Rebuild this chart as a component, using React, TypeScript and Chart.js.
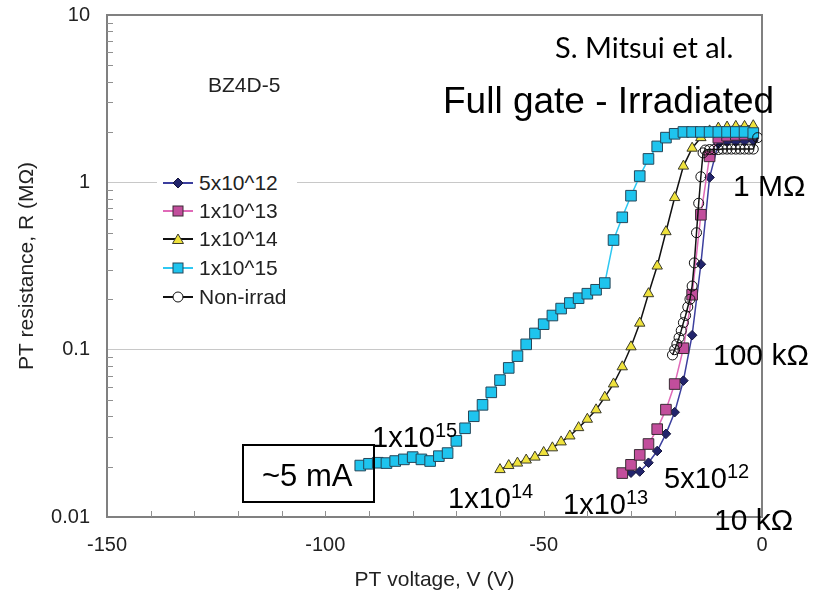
import React, { useEffect, useRef } from 'react';
import { Chart, registerables } from 'chart.js';

Chart.register(...registerables);

// ---------- data ----------
const V_5E12 = [-30, -28, -26, -24, -22, -20, -18, -16, -14, -12, -10, -8, -6, -4, -2];
const R_5E12 = [0.0184, 0.0187, 0.0211, 0.0248, 0.0314, 0.0423, 0.0653, 0.122, 0.324, 1.07, 1.7, 1.75, 1.75, 1.76, 1.77];

const V_1E13 = [-32, -30, -28, -26, -24, -22, -20, -18, -16, -14, -12, -10, -8, -6, -4, -2];
const R_1E13 = [0.0183, 0.0205, 0.0235, 0.0273, 0.0335, 0.0438, 0.0623, 0.102, 0.213, 0.64, 1.43, 1.85, 1.9, 1.92, 1.93, 1.95];

const V_1E14 = [-60, -58, -56, -54, -52, -50, -48, -46, -44, -42, -40, -38, -36, -34, -32, -30, -28, -26, -24, -22, -20, -18, -16, -14, -12, -10, -8, -6, -4, -2];
const R_1E14 = [0.0192, 0.0203, 0.021, 0.0219, 0.0228, 0.0243, 0.0259, 0.0281, 0.0305, 0.0342, 0.0384, 0.0437, 0.052, 0.0624, 0.079, 0.104, 0.144, 0.216, 0.316, 0.507, 0.811, 1.25, 1.6, 1.85, 2.03, 2.11, 2.14, 2.16, 2.16, 2.18];

const V_1E15 = [-92, -90, -88, -86, -84, -82, -80, -78, -76, -74, -72, -70, -68, -66, -64, -62, -60, -58, -56, -54, -52, -50, -48, -46, -44, -42, -40, -38, -36, -34, -32, -30, -28, -26, -24, -22, -20, -18, -16, -14, -12, -10, -8, -6, -4, -2];
const R_1E15 = [0.0203, 0.0208, 0.0211, 0.021, 0.0216, 0.0221, 0.0228, 0.0221, 0.0216, 0.0231, 0.0241, 0.0285, 0.0339, 0.04, 0.0468, 0.0556, 0.0658, 0.0778, 0.0915, 0.1076, 0.125, 0.142, 0.16, 0.176, 0.19, 0.203, 0.216, 0.228, 0.25, 0.452, 0.618, 0.832, 1.09, 1.38, 1.64, 1.85, 1.95, 2.0, 2.0, 2.0, 2.0, 2.0, 2.0, 2.0, 2.0, 1.97];

const V_NON = [-20.5, -20, -19.5, -19, -18.5, -18, -17.5, -17, -16.5, -16, -15.5, -15, -14.5, -14, -13.5, -13, -12, -11, -10, -9, -8, -7, -6, -5, -4, -3, -2, -1];
const R_NON = [0.093, 0.1, 0.108, 0.118, 0.13, 0.145, 0.16, 0.18, 0.2, 0.24, 0.33, 0.5, 0.75, 1.08, 1.5, 1.56, 1.57, 1.57, 1.57, 1.58, 1.58, 1.58, 1.58, 1.58, 1.58, 1.58, 1.58, 1.85];

const SERIES_LABELS = ['5x10^12', '1x10^13', '1x10^14', '1x10^15', 'Non-irrad'];
const X_MIN = -150;
const X_MAX = 0;
const Y_MIN = 0.01;
const Y_MAX = 10;
const Y_LABELED = [10, 1, 0.1, 0.01];
const X_LABELED = [-150, -100, -50, 0];

// ---------- styles ----------
const FONT = '"Liberation Sans", Arial, sans-serif';
const STYLE = [
  { line: '#3c3f9e', fill: '#22246c', border: '#14143c', shape: 'diamond' },
  { line: '#e06ab8', fill: '#c24e9c', border: '#3a2a34', shape: 'square' },
  { line: '#111111', fill: '#efe23c', border: '#3a3a2a', shape: 'triangle' },
  { line: '#2ec8f2', fill: '#1ec4ee', border: '#25475a', shape: 'square' },
  { line: '#111111', fill: 'rgba(255,255,255,0)', border: '#111111', shape: 'circle' },
];

const pts = (xs: number[], ys: number[]) => xs.map((x, i) => ({ x, y: ys[i] }));

const isPow10 = (v: number) => {
  const l = Math.log10(v);
  return Math.abs(l - Math.round(l)) < 1e-6;
};

const framePlugin = {
  id: 'frame',
  beforeDatasetsDraw(chart: any) {
    const { ctx, chartArea, scales } = chart;
    const { left, right, top, bottom } = chartArea;
    const x = scales.x;
    const y = scales.y;
    ctx.save();
    ctx.strokeStyle = '#808080';
    ctx.lineWidth = 2;
    ctx.beginPath();
    ctx.moveTo(left - 1, top);
    ctx.lineTo(right, top);
    ctx.lineTo(right, bottom + 1);
    ctx.stroke();
    ctx.lineWidth = 1;
    ctx.strokeStyle = '#909090';
    ctx.beginPath();
    for (let v = X_MIN + 10; v < X_MAX; v += 10) {
      const px = Math.round(x.getPixelForValue(v)) + 0.5;
      ctx.moveTo(px, bottom);
      ctx.lineTo(px, bottom - 6);
    }
    for (let d = Y_MIN; d < Y_MAX * 0.999; d *= 10) {
      for (let k = 2; k <= 9; k++) {
        const py = Math.round(y.getPixelForValue(k * d)) + 0.5;
        ctx.moveTo(left, py);
        ctx.lineTo(left + 6, py);
      }
    }
    ctx.stroke();
    ctx.restore();
  },
};

function Marker({ idx }: { idx: number }) {
  const s = STYLE[idx];
  let shape: React.ReactNode = null;
  if (s.shape === 'diamond') shape = <polygon points="15,3 20,8 15,13 10,8" fill={s.fill} stroke={s.border} strokeWidth={1} />;
  if (s.shape === 'square') shape = <rect x={10} y={3} width={10} height={10} fill={s.fill} stroke={s.border} strokeWidth={1} />;
  if (s.shape === 'triangle') shape = <polygon points="15,3 20.5,12.5 9.5,12.5" fill={s.fill} stroke={s.border} strokeWidth={1} />;
  if (s.shape === 'circle') shape = <circle cx={15} cy={8} r={5} fill="#fff" stroke={s.border} strokeWidth={1} />;
  return (
    <svg width={30} height={16} style={{ display: 'block' }}>
      <line x1={0} y1={8} x2={30} y2={8} stroke={s.line} strokeWidth={2} />
      {shape}
    </svg>
  );
}

const abs = (left: number, top: number, size: number, extra: React.CSSProperties = {}): React.CSSProperties => ({
  position: 'absolute',
  left,
  top,
  fontFamily: FONT,
  fontSize: size,
  lineHeight: `${size}px`,
  whiteSpace: 'nowrap',
  color: '#000',
  ...extra,
});

function Pow({ left, top, base, exp }: { left: number; top: number; base: string; exp: string }) {
  return (
    <div style={abs(left, top, 29)}>
      {base}
      <span style={{ fontSize: 20, position: 'relative', top: -10 }}>{exp}</span>
    </div>
  );
}

export default function App() {
  const ref = useRef<HTMLCanvasElement>(null);

  useEffect(() => {
    if (!ref.current) return;
    const series = [
      pts(V_5E12, R_5E12),
      pts(V_1E13, R_1E13),
      pts(V_1E14, R_1E14),
      pts(V_1E15, R_1E15),
      pts(V_NON, R_NON),
    ];
    const shapeMap: Record<string, any> = { diamond: 'rectRot', square: 'rect', triangle: 'triangle', circle: 'circle' };
    const radiusMap: Record<string, number> = { diamond: 4.8, square: 7.5, triangle: 6, circle: 5 };
    // later series drawn on top: dataset index 0 is drawn last in Chart.js
    const order = [4, 3, 2, 1, 0];
    const datasets = order.map((i) => ({
      label: SERIES_LABELS[i],
      data: series[i],
      borderColor: STYLE[i].line,
      borderWidth: 1.5,
      backgroundColor: STYLE[i].fill,
      pointBackgroundColor: STYLE[i].fill,
      pointBorderColor: STYLE[i].border,
      pointBorderWidth: 1,
      pointStyle: shapeMap[STYLE[i].shape],
      pointRadius: radiusMap[STYLE[i].shape],
      showLine: true,
      fill: false,
      tension: 0,
    }));

    const chart = new Chart(ref.current, {
      type: 'line',
      data: { datasets },
      plugins: [framePlugin],
      options: {
        animation: false,
        responsive: false,
        events: [],
        layout: { padding: { left: 0, right: 54, top: 15, bottom: 0 } },
        plugins: { legend: { display: false }, tooltip: { enabled: false } },
        scales: {
          x: {
            type: 'linear',
            min: X_MIN,
            max: X_MAX,
            afterFit: (s: any) => {
              s.height = 80;
              s.paddingLeft = 0;
              s.paddingRight = 0;
            },
            border: { display: true, color: '#808080', width: 2 },
            grid: { display: true, drawOnChartArea: false, drawTicks: false },
            ticks: {
              stepSize: 10,
              autoSkip: false,
              maxRotation: 0,
              padding: 16,
              color: '#222',
              font: { family: FONT, size: 20 },
              callback: (v: any) => (X_LABELED.includes(Number(v)) ? String(v) : ''),
            },
            title: {
              display: true,
              text: 'PT voltage, V (V)',
              color: '#222',
              font: { family: FONT, size: 21 },
              padding: { top: 4, bottom: 4 },
            },
          },
          y: {
            type: 'logarithmic',
            min: Y_MIN,
            max: Y_MAX,
            afterFit: (s: any) => {
              s.width = 107;
              s.paddingTop = 0;
              s.paddingBottom = 0;
            },
            border: { display: true, color: '#808080', width: 2 },
            grid: {
              drawTicks: false,
              color: (c: any) => {
                const v = c.tick ? c.tick.value : NaN;
                return isPow10(v) && v > Y_MIN * 1.01 && v < Y_MAX * 0.99 ? '#c8c8c8' : 'rgba(0,0,0,0)';
              },
              lineWidth: 1,
            },
            ticks: {
              autoSkip: false,
              padding: 17,
              color: '#222',
              font: { family: FONT, size: 20 },
              callback: (v: any) => {
                const n = Number(v);
                const hit = Y_LABELED.find((t) => Math.abs(Math.log10(t) - Math.log10(n)) < 1e-6);
                return hit !== undefined ? String(hit) : '';
              },
            },
            title: {
              display: true,
              text: 'PT resistance, R (MΩ)',
              color: '#222',
              font: { family: FONT, size: 21 },
              padding: { top: 15, bottom: 4 },
            },
          },
        },
      },
    } as any);
    return () => chart.destroy();
  }, []);

  const legendTop = [183, 211, 239, 268, 297];

  return (
    <div style={{ position: 'fixed', left: 0, top: 0, width: 816, height: 597, background: '#fff', overflow: 'hidden' }}>
      <canvas ref={ref} width={816} height={597} style={{ position: 'absolute', left: 0, top: 0, width: 816, height: 597 }} />

      {/* legend */}
      <div style={{ position: 'absolute', left: 157, top: 168, width: 140, height: 144, background: '#fff' }} />
      {SERIES_LABELS.map((lab, i) => (
        <div key={lab} style={{ position: 'absolute', left: 163, top: legendTop[i] - 8 }}>
          <Marker idx={i} />
        </div>
      ))}
      {SERIES_LABELS.map((lab, i) => (
        <div key={lab + 't'} style={abs(199, legendTop[i] - 12, 21, { lineHeight: '24px', color: '#222' })}>
          {lab}
        </div>
      ))}

      {/* annotations */}
      <div style={abs(208, 74, 21, { color: '#222' })}>BZ4D-5</div>
      <div style={abs(555, 32, 29, { fontFamily: 'Lato, "Open Sans", sans-serif' })}>S. Mitsui et al.</div>
      <div style={abs(443, 82, 37)}>Full gate - Irradiated</div>
      <div style={abs(733, 171, 30)}>1 MΩ</div>
      <div style={abs(713, 340, 30)}>100 kΩ</div>
      <div style={abs(714, 505, 30)}>10 kΩ</div>
      <Pow left={664} top={464} base="5x10" exp="12" />
      <Pow left={563} top={490} base="1x10" exp="13" />
      <Pow left={448} top={484} base="1x10" exp="14" />
      <Pow left={372} top={423} base="1x10" exp="15" />
      <div style={{ position: 'absolute', left: 242, top: 444, width: 129, height: 55, border: '2px solid #000' }} />
      <div style={abs(262, 460, 31)}>~5 mA</div>
    </div>
  );
}
